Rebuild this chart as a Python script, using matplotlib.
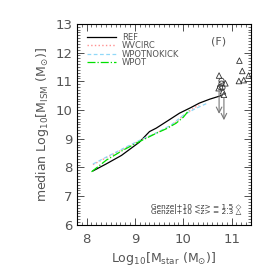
import matplotlib
matplotlib.use("Agg")
import matplotlib.pyplot as plt
from matplotlib.ticker import MultipleLocator

# model curves: median log10 M_ISM vs log10 M_star
ref_x = [8.13, 8.4, 8.72, 9.09, 9.30, 9.44, 9.7, 9.92, 10.15, 10.33, 10.55, 10.78]
ref_y = [7.88, 8.12, 8.42, 8.88, 9.25, 9.37, 9.65, 9.89, 10.08, 10.24, 10.38, 10.5]

wvcirc_x = [8.13, 8.45, 8.8, 9.09, 9.44, 9.75, 10.0, 10.2, 10.33]
wvcirc_y = [8.1, 8.38, 8.67, 8.93, 9.2, 9.45, 9.8, 10.05, 10.18]

wpotnokick_x = [8.13, 8.45, 8.8, 9.09, 9.44, 9.75, 10.0, 10.25, 10.5]
wpotnokick_y = [8.12, 8.4, 8.7, 8.94, 9.2, 9.48, 9.82, 10.05, 10.24]

wpot_x = [8.1, 8.41, 8.75, 9.09, 9.44, 9.65, 9.85, 10.0, 10.12]
wpot_y = [7.85, 8.26, 8.6, 8.9, 9.19, 9.35, 9.54, 9.75, 10.0]

# Genzel+10 observations
g15_x = [10.79, 10.79, 10.76, 10.81]
g15_y = [11.02, 10.92, 10.8, 10.78]
g23_x = [10.74, 10.87, 10.73, 10.84, 10.82, 11.16, 11.22, 11.15, 11.25, 11.35]
g23_y = [11.2, 10.93, 10.76, 10.53, 10.65, 11.72, 11.36, 11.01, 11.04, 11.2]

# upper limits (x, top, bottom)
lim_x = [10.74, 10.84]
lim_top = [10.76, 10.53]
lim_bot = [9.77, 9.55]

gray = "#555555"

fig = plt.figure(figsize=(2.74, 2.74), dpi=100)
ax = fig.add_axes([0.281, 0.179, 0.635, 0.734])

ax.plot(ref_x, ref_y, color="black", lw=0.9, label="REF")
ax.plot(wvcirc_x, wvcirc_y, color="#ff9090", lw=1.0, ls=":", label="WVCIRC")
ax.plot(wpotnokick_x, wpotnokick_y, color="#90d8f8", lw=0.9, ls="--",
        dashes=(3, 2), label="WPOTNOKICK")
ax.plot(wpot_x, wpot_y, color="#00e000", lw=0.9, ls="-.", label="WPOT")

for x, t, b in zip(lim_x, lim_top, lim_bot):
    ax.annotate("", xy=(x, b), xytext=(x, t),
                arrowprops=dict(arrowstyle="->", color="#777777", lw=0.8))

ax.scatter(g15_x, g15_y, marker="o", s=14, facecolors="none",
           edgecolors="#333333", linewidths=0.6)
ax.scatter(g23_x, g23_y, marker="^", s=16, facecolors="none",
           edgecolors="#333333", linewidths=0.6)

ax.set_xlim(7.8, 11.4)
ax.set_ylim(6, 13)
ax.xaxis.set_major_locator(MultipleLocator(1))
ax.xaxis.set_minor_locator(MultipleLocator(0.1))
ax.yaxis.set_major_locator(MultipleLocator(1))
ax.yaxis.set_minor_locator(MultipleLocator(0.1))
ax.tick_params(which="both", direction="in", top=True, right=True,
               colors="#333333", labelcolor=gray, labelsize=9.5)
ax.tick_params(which="major", length=5, width=0.6)
ax.tick_params(which="minor", length=2.2, width=0.5)
ax.tick_params(axis="x", pad=6)
for s in ax.spines.values():
    s.set_linewidth(0.8)

ax.set_xlabel(r"Log$_{10}$[M$_{\rm star}$ (M$_{\odot}$)]", color=gray,
              fontsize=9, labelpad=3)
ax.set_ylabel(r"median Log$_{10}$[M$_{\rm ISM}$ (M$_{\odot}$)]", color=gray,
              fontsize=9, labelpad=3)

ax.text(10.73, 12.38, "(F)", color=gray, fontsize=8, ha="center", va="center")

ax.text(11.2, 6.57, "Genzel+10 <z> = 1.5 \u25c7\nGenzel+10 <z> = 2.3 \u25b3",
        color="#333333", fontsize=5.3, ha="right", va="center",
        linespacing=0.95)

leg = ax.legend(loc="upper left", fontsize=6, frameon=False,
                handlelength=3.5, handletextpad=0.7, labelspacing=-0.08,
                borderpad=0, borderaxespad=0, bbox_to_anchor=(0.058, 0.955))
for t in leg.get_texts():
    t.set_color(gray)

fig.savefig("out.png", dpi=100)
